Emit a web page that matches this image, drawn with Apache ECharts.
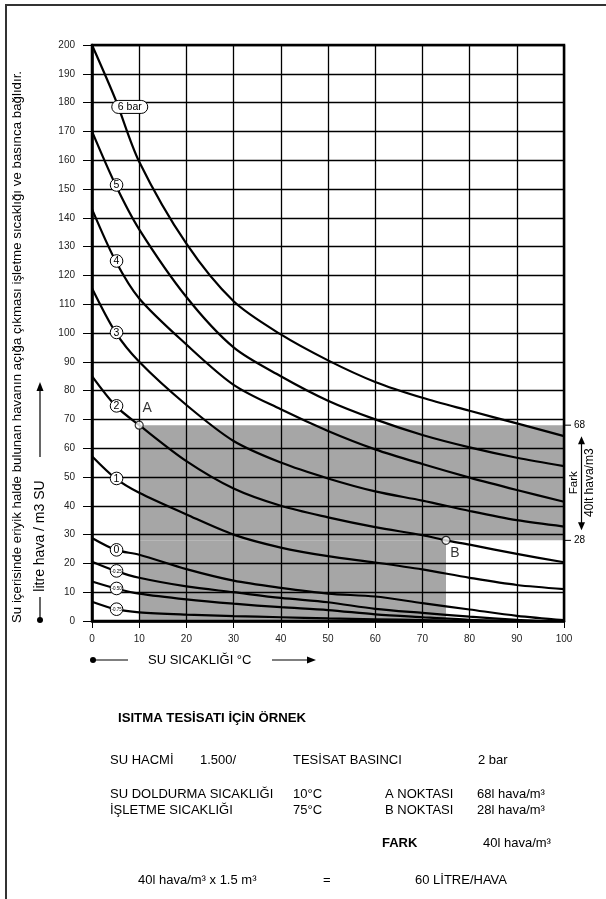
<!DOCTYPE html>
<html><head><meta charset="utf-8">
<script src="https://cdn.jsdelivr.net/npm/echarts@6/dist/echarts.min.js"></script>
<style>html,body{margin:0;padding:0;background:#fff}#c{width:606px;height:899px}</style>
</head><body><div id="c"></div>
<script>
const FONT = "'Liberation Sans', Arial, Helvetica, sans-serif";

// axes
const xMin = 0, xMax = 100, xStep = 10;
const yMin = 0, yMax = 200, yStep = 10;

// curves: [temperature °C, litre air / m3 water]
const curve6  = [[0,200],[5,181],[10,159.5],[20,131],[30,111],[40,99.5],[50,90.5],[60,83],[70,77.5],[80,73],[90,68.6],[100,64.2]];
const curve5  = [[0,170],[5,151.4],[10,136],[20,112.5],[30,95],[40,85],[50,76.5],[60,70],[70,64.6],[80,60.3],[90,56.7],[100,53.8]];
const curve4  = [[0,143],[5,125],[10,112],[20,96],[30,82],[40,73.5],[50,66],[60,59.6],[70,54.5],[80,49.8],[90,45.5],[100,41.4]];
const curve3  = [[0,115.5],[5,100.2],[10,90],[20,75],[30,62.5],[40,55],[50,49.5],[60,45],[70,41.8],[80,38.2],[90,35],[100,32.8]];
const curve2  = [[0,85],[5,74.7],[10,68],[20,55.5],[30,46],[40,40],[50,36],[60,32.6],[70,29.8],[75,28],[80,26.5],[90,23.3],[100,20.4]];
const curve1  = [[0,57.2],[5,49.5],[10,44.5],[20,37],[30,30],[40,25.5],[50,22.5],[60,20.3],[70,17.9],[80,15],[90,12.5],[100,11.1]];
const curve0  = [[0,28.8],[5,24.7],[10,23],[20,18],[30,14],[40,11.5],[50,9.5],[60,8.5],[70,6.2],[80,4],[90,1.8],[100,0.3]];
const curveM25 = [[0,20.6],[5,17.4],[10,15],[20,12],[30,10],[40,8],[50,6.5],[60,4.2],[70,2.8],[80,1.5],[90,0.4],[95,0]];
const curveM50 = [[0,13.7],[5,11.3],[10,9.5],[20,7.5],[30,6],[40,4.8],[50,3.8],[60,2.3],[70,1.3],[80,0.4],[88,0]];
const curveM75 = [[0,6.7],[5,4.1],[10,3],[20,2.2],[30,1.7],[40,1.3],[50,0.9],[60,0.6],[70,0.3],[80,0]];
const curves = [curve6, curve5, curve4, curve3, curve2, curve1, curve0, curveM25, curveM50, curveM75];

// curve labels
const labelText = ['6 bar','5','4','3','2','1','0','-0.25','-0.50','-0.75'];
const labelPos  = [[8,178.5],[5.2,151.4],[5.2,125],[5.2,100.2],[5.2,74.7],[5.2,49.5],[5.2,24.7],[5.2,17.4],[5.2,11.3],[5.2,4.1]];

// shaded regions [x0, y0, x1, y1]
const shadeRects = [[10,28,100,68],[10,0,75,28]];

// points A / B
const pointNames  = ['A','B'];
const pointValues = [[10,68],[75,28]];

// right side marks
const sideMarks = [68, 28];
const sideText1 = 'Fark';
const sideText2 = '40lt hava/m3';

// texts
const yTitleLong = 'Su içerisinde eriyik halde bulunan havanın açığa çıkması işletme sıcaklığı ve basınca bağlıdır.';
const yTitle = 'litre hava / m3 SU';
const xTitle = 'SU SICAKLIĞI °C';

const chart = echarts.init(document.getElementById('c'), null, {renderer:'canvas'});

const txt = (x, y, text, size, opts) => Object.assign({
  type:'text', x:x, y:y,
  style:{text:text, fill:'#000', font:(opts && opts.bold ? 'bold ' : '') + size + 'px ' + FONT,
         align:(opts && opts.align) || 'left', verticalAlign:'middle'}
}, opts && opts.rot ? {rotation: opts.rot} : {});

const B = 13; // body font size
const graphics = [
  {type:'polyline', shape:{points:[[6,899],[6,5],[606,5]]}, style:{stroke:'#333', lineWidth:2, fill:null}},
  txt(17, 347, yTitleLong, 13.3, {align:'center', rot:Math.PI/2}),
  txt(40, 536, yTitle, 14, {align:'center', rot:Math.PI/2}),
  {type:'circle', shape:{cx:40, cy:620, r:3}, style:{fill:'#000'}},
  {type:'line', shape:{x1:40, y1:620, x2:40, y2:597}, style:{stroke:'#000', lineWidth:1.2}},
  {type:'line', shape:{x1:40, y1:457, x2:40, y2:389}, style:{stroke:'#000', lineWidth:1.2}},
  {type:'polygon', shape:{points:[[40,382],[36.5,391],[43.5,391]]}, style:{fill:'#000'}},
  {type:'circle', shape:{cx:93, cy:660, r:3}, style:{fill:'#000'}},
  {type:'line', shape:{x1:93, y1:660, x2:128, y2:660}, style:{stroke:'#000', lineWidth:1.2}},
  txt(148, 660, xTitle, 13),
  {type:'line', shape:{x1:272, y1:660, x2:308, y2:660}, style:{stroke:'#000', lineWidth:1.2}},
  {type:'polygon', shape:{points:[[316,660],[307,656.5],[307,663.5]]}, style:{fill:'#000'}},
  // bottom block
  txt(118, 718, 'ISITMA TESİSATI İÇİN ÖRNEK', 13.2, {bold:true}),
  txt(110, 760, 'SU HACMİ', B), txt(200, 760, '1.500/', B),
  txt(293, 760, 'TESİSAT BASINCI', B), txt(478, 760, '2 bar', B),
  txt(110, 794, 'SU DOLDURMA SICAKLIĞI', B), txt(293, 794, '10°C', B),
  txt(385, 794, 'A NOKTASI', B), txt(477, 794, '68l hava/m³', B),
  txt(110, 810, 'İŞLETME SICAKLIĞI', B), txt(293, 810, '75°C', B),
  txt(385, 810, 'B NOKTASI', B), txt(477, 810, '28l hava/m³', B),
  txt(382, 843, 'FARK', B, {bold:true}), txt(483, 843, '40l hava/m³', B),
  txt(138, 880, '40l hava/m³ x 1.5 m³', B), txt(323, 880, '=', B),
  txt(415, 880, '60 LİTRE/HAVA', B)
];

const series = [];
series.push({
  type:'custom', z:-1, silent:true, clip:false,
  data: shadeRects,
  encode:{x:[0,2], y:[1,3]},
  renderItem:(params, api) => {
    const p1 = api.coord([api.value(0), api.value(3)]);
    const p2 = api.coord([api.value(2), api.value(1)]);
    return {type:'rect', shape:{x:p1[0], y:p1[1], width:p2[0]-p1[0], height:p2[1]-p1[1]}, style:{fill:'#a6a6a6'}};
  }
});
curves.forEach((c, i) => series.push({
  type:'line', name:labelText[i], data:c, smooth:0.3,
  symbol:'none', silent:true, z:2,
  lineStyle:{color:'#000', width:2.2}
}));
series.push({
  type:'custom', z:4, silent:true, clip:false,
  data: labelPos,
  renderItem:(params, api) => {
    const t = labelText[params.dataIndex];
    const p = api.coord([api.value(0), api.value(1)]);
    if (t.indexOf('bar') >= 0) {
      return {type:'group', children:[
        {type:'rect', shape:{x:p[0]-18, y:p[1]-6.5, width:36, height:13, r:6.5}, style:{fill:'#fff', stroke:'#000', lineWidth:1}},
        {type:'text', x:p[0], y:p[1]+0.5, style:{text:t, fill:'#000', font:'10.5px '+FONT, align:'center', verticalAlign:'middle'}}
      ]};
    }
    const small = t.charAt(0) === '-';
    return {type:'group', children:[
      {type:'circle', shape:{cx:p[0], cy:p[1], r:6.3}, style:{fill:'#fff', stroke:'#000', lineWidth:1}},
      {type:'text', x:p[0], y:p[1]+0.5, style:{text:t, fill:'#000', font:(small?'4.5px ':'10.5px ')+FONT, align:'center', verticalAlign:'middle'}}
    ]};
  }
});
series.push({
  type:'scatter', z:5, silent:true,
  symbol:'circle', symbolSize:8,
  itemStyle:{color:'#fff', borderColor:'#000', borderWidth:1.2},
  data: pointValues.map((v, i) => ({
    value:v,
    label:{show:true, formatter:pointNames[i], fontSize:14, fontFamily:FONT, color:'#000',
           position: i === 0 ? 'top' : 'bottom', offset: i === 0 ? [8, 0] : [9, -4]}
  }))
});
series.push({
  type:'custom', z:4, silent:true, clip:false,
  data: sideMarks.map(v => [xMax, v]),
  renderItem:(params, api) => {
    const p = api.coord([api.value(0), api.value(1)]);
    const ch = [
      {type:'line', shape:{x1:p[0], y1:p[1], x2:p[0]+7, y2:p[1]}, style:{stroke:'#000', lineWidth:1}},
      {type:'text', x:p[0]+10, y:p[1], style:{text:String(sideMarks[params.dataIndex]), fill:'#000', font:'10px '+FONT, align:'left', verticalAlign:'middle'}}
    ];
    if (params.dataIndex === 0) {
      const q = api.coord([xMax, sideMarks[1]]);
      const ax = p[0] + 17.5;
      const top = p[1] + 11, bot = q[1] - 10;
      ch.push({type:'line', shape:{x1:ax, y1:top+6, x2:ax, y2:bot-6}, style:{stroke:'#000', lineWidth:1.2}});
      ch.push({type:'polygon', shape:{points:[[ax,top],[ax-3.5,top+8],[ax+3.5,top+8]]}, style:{fill:'#000'}});
      ch.push({type:'polygon', shape:{points:[[ax,bot],[ax-3.5,bot-8],[ax+3.5,bot-8]]}, style:{fill:'#000'}});
      const mid = (p[1] + q[1]) / 2;
      ch.push({type:'text', x:ax-8, y:mid, rotation:Math.PI/2, style:{text:sideText1, fill:'#000', font:'11.5px '+FONT, align:'center', verticalAlign:'middle'}});
      ch.push({type:'text', x:ax+8.5, y:mid, rotation:Math.PI/2, style:{text:sideText2, fill:'#000', font:'12px '+FONT, align:'center', verticalAlign:'middle'}});
    }
    return {type:'group', children:ch};
  }
});

chart.setOption({
  animation:false,
  backgroundColor:'#fff',
  grid:{left:92, top:45, width:472, height:576, show:true, borderColor:'#000', borderWidth:2.5, backgroundColor:'transparent'},
  xAxis:{
    type:'value', min:xMin, max:xMax, interval:xStep,
    axisLine:{show:true, lineStyle:{color:'#000', width:2.5}},
    axisTick:{show:true, length:7, lineStyle:{color:'#000', width:1}},
    axisLabel:{fontSize:10, fontFamily:FONT, color:'#222', margin:13},
    splitLine:{show:true, lineStyle:{color:'#000', width:1.3}}
  },
  yAxis:{
    type:'value', min:yMin, max:yMax, interval:yStep,
    axisLine:{show:true, lineStyle:{color:'#000', width:2.5}},
    axisTick:{show:true, length:9, lineStyle:{color:'#000', width:1}},
    axisLabel:{fontSize:10, fontFamily:FONT, color:'#222', margin:17},
    splitLine:{show:true, lineStyle:{color:'#000', width:1.3}}
  },
  graphic: graphics,
  series: series
});
</script>
</body></html>
